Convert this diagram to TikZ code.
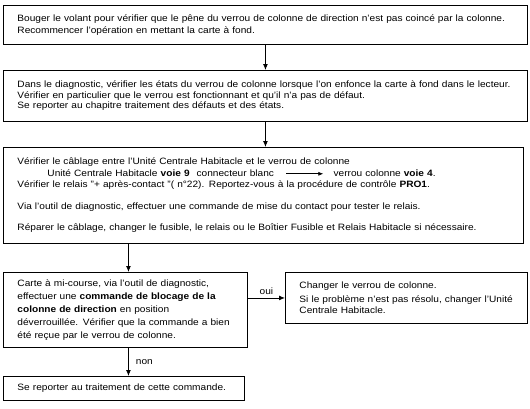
\documentclass[tikz,border=0pt]{standalone}
\usepackage{fontspec}
\setmainfont[FakeStretch=1.1]{Liberation Sans}
\usetikzlibrary{arrows.meta}
\begin{document}
\begin{tikzpicture}[x=1pt,y=-1pt,
  box/.style={draw=black,line width=0.9pt,anchor=north west,align=left,
    inner xsep=14pt,inner ysep=0pt,font=\fontsize{9.2}{11.5}\selectfont},
  conn/.style={line width=0.9pt,-{Latex[length=6pt,width=5pt]}},
  lbl/.style={font=\fontsize{9.2}{10}\selectfont,inner sep=1pt}]
\useasboundingbox (0,0) rectangle (530,408);
\node[box,minimum width=524pt,minimum height=39pt,text width=496pt] (b1) at (3,5)
 {Bouger le volant pour vérifier que le pêne du verrou de colonne de direction n'est pas coincé par la colonne.\\
  Recommencer l'opération en mettant la carte à fond.};
\node[box,minimum width=524pt,minimum height=51pt,text width=496pt,font=\fontsize{9.2}{10.5}\selectfont] (b2) at (3,70)
 {Dans le diagnostic, vérifier les états du verrou de colonne lorsque l'on enfonce la carte à fond dans le lecteur.\\
  Vérifier en particulier que le verrou est fonctionnant et qu'il n'a pas de défaut.\\
  Se reporter au chapitre traitement des défauts et des états.};
\node[box,minimum width=520pt,minimum height=96pt,text width=492pt] (b3) at (3,147)
 {Vérifier le câblage entre l'Unité Centrale Habitacle et le verrou de colonne\\
  \hspace*{30pt}Unité Centrale Habitacle \textbf{voie 9}\hspace{7pt}connecteur blanc\hspace{12pt}\tikz[baseline=-2.6pt]\draw[line width=0.6pt,-{Latex[length=5pt,width=4pt]}] (0,0) -- (37,0);\hspace{10pt}verrou colonne \textbf{voie 4}.\\
  Vérifier le relais "+ après-contact "( n°22). Reportez-vous à la procédure de contrôle \textbf{PRO1}.\\[10pt]
  Via l'outil de diagnostic, effectuer une commande de mise du contact pour tester le relais.\\[10pt]
  Réparer le câblage, changer le fusible, le relais ou le Boîtier Fusible et Relais Habitacle si nécessaire.};
\node[box,minimum width=242pt,minimum height=75pt,text width=216pt,font=\fontsize{9.2}{13}\selectfont] (b4) at (3,272)
 {Carte à mi-course, via l'outil de diagnostic,\\
  effectuer une \textbf{commande de blocage de la}\\
  \textbf{colonne de direction} en position\\
  déverrouillée. Vérifier que la commande a bien\\
  été reçue par le verrou de colonne.};
\node[box,minimum width=240pt,minimum height=51pt,text width=214pt] (b5) at (285,272)
 {Changer le verrou de colonne.\\[2pt]
  Si le problème n'est pas résolu, changer l'Unité\\
  Centrale Habitacle.};
\node[box,minimum width=241pt,minimum height=24pt,text width=213pt] (b6) at (3,376)
 {Se reporter au traitement de cette commande.};
\draw[conn] (b1.south) -- (b1.south |- b2.north);
\draw[conn] (b2.south) -- (b2.south |- b3.north);
\coordinate (c4) at ([xshift=3pt]b4.north);
\draw[conn] (c4 |- b3.south) -- (c4);
\draw[conn] (b5.west -| b4.east) -- (b5.west) node[lbl,midway,above=2pt] {oui};
\draw[conn] (c4 |- b4.south) -- (c4 |- b6.north) node[lbl,midway,right=6pt] {non};
\end{tikzpicture}
\end{document}
